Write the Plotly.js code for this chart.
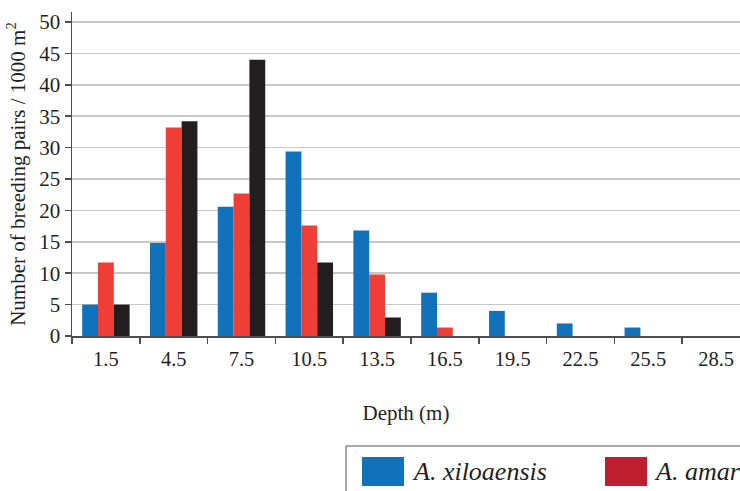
<!DOCTYPE html>
<html>
<head>
<meta charset="utf-8">
<script src="https://cdn.plot.ly/plotly-3.0.1.min.js"></script>
<style>html,body{margin:0;padding:0;overflow:hidden;background:#fff}#chart{width:740px;height:491px}</style>
</head>
<body>
<div id="chart"></div>
<script>
const depths = ["1.5","4.5","7.5","10.5","13.5","16.5","19.5","22.5","25.5","28.5"];
const xiloaensis = [5.0, 14.8, 20.6, 29.4, 16.8, 6.9, 4.0, 2.0, 1.35, 0];
const amarillo   = [11.7, 33.2, 22.7, 17.6, 9.8, 1.35, 0, 0, 0, 0];
const sagittae   = [5.0, 34.2, 44.0, 11.7, 2.95, 0, 0, 0, 0, 0];
const seriesNames = ["A. xiloaensis", "A. amarillo", "A. sagittae"];
const barColors = ["#1072BA", "#EF3E36", "#231F20"];
const legendColors = ["#1072BA", "#BE1E2D", "#231F20"];

const font = "Liberation Serif, Times New Roman, serif";
const txt = "#231F20";

const traces = [xiloaensis, amarillo, sagittae].map((v, i) => ({
  type: "bar", x: depths, y: v, name: seriesNames[i],
  marker: {color: barColors[i], line: {width: 0}}, showlegend: false
}));

// manual legend (px -> paper conversion)
const L = 72, R = 740, T = 12, B = 336;
const px = x => (x - L) / (R - L);
const py = y => (B - y) / (B - T);
const shapes = [
  {type: "rect", xref: "paper", yref: "paper", x0: px(346), x1: px(760), y0: py(446), y1: py(500),
   line: {color: "#555", width: 1}, fillcolor: "rgba(0,0,0,0)"},
  {type: "rect", xref: "paper", yref: "paper", x0: px(362), x1: px(404), y0: py(457), y1: py(486),
   line: {width: 0}, fillcolor: legendColors[0]},
  {type: "rect", xref: "paper", yref: "paper", x0: px(605), x1: px(647), y0: py(457), y1: py(486),
   line: {width: 0}, fillcolor: legendColors[1]}
];
const annotations = [
  {xref: "paper", yref: "paper", x: px(410), y: py(471), xanchor: "left", yanchor: "middle",
   text: "<i>" + seriesNames[0] + "</i>", showarrow: false, font: {family: font, size: 26, color: txt}},
  {xref: "paper", yref: "paper", x: px(652), y: py(471), xanchor: "left", yanchor: "middle",
   text: "<i>" + seriesNames[1] + "</i>", showarrow: false, font: {family: font, size: 26, color: txt}}
];

const layout = {
  width: 740, height: 491,
  margin: {l: L, r: 740 - R, t: T, b: 491 - B, pad: 0},
  paper_bgcolor: "#fff", plot_bgcolor: "#fff",
  barmode: "group", bargap: 0.3, bargroupgap: 0,
  font: {family: font, color: txt},
  showlegend: false,
  xaxis: {
    type: "category", range: [-0.5, -0.5 + (R - L) / 67.8],
    showline: true, linecolor: "#4d4d4d", linewidth: 1.5,
    ticks: "outside", tickson: "boundaries", ticklen: 6, tickcolor: "#4d4d4d", tickwidth: 1.5,
    ticklabelstandoff: 4,
    showgrid: false, zeroline: false,
    tickfont: {family: font, size: 20.5, color: txt},
    title: {text: "Depth (m)", font: {family: font, size: 21, color: txt}, standoff: 36}
  },
  yaxis: {
    range: [0, 51.6], tickvals: [0,5,10,15,20,25,30,35,40,45,50],
    showline: true, linecolor: "#4d4d4d", linewidth: 1.5,
    ticks: "outside", ticklen: 6, tickcolor: "#4d4d4d", tickwidth: 1.5,
    showgrid: true, gridcolor: "#c8c8c8", gridwidth: 1.5, zeroline: false,
    tickfont: {family: font, size: 21, color: txt},
    title: {text: "Number of breeding pairs / 1000 m<sup>2</sup>", font: {family: font, size: 21, color: txt}, standoff: 8}
  },
  shapes: shapes, annotations: annotations
};

Plotly.newPlot("chart", traces, layout, {displayModeBar: false, staticPlot: true});
</script>
</body>
</html>
